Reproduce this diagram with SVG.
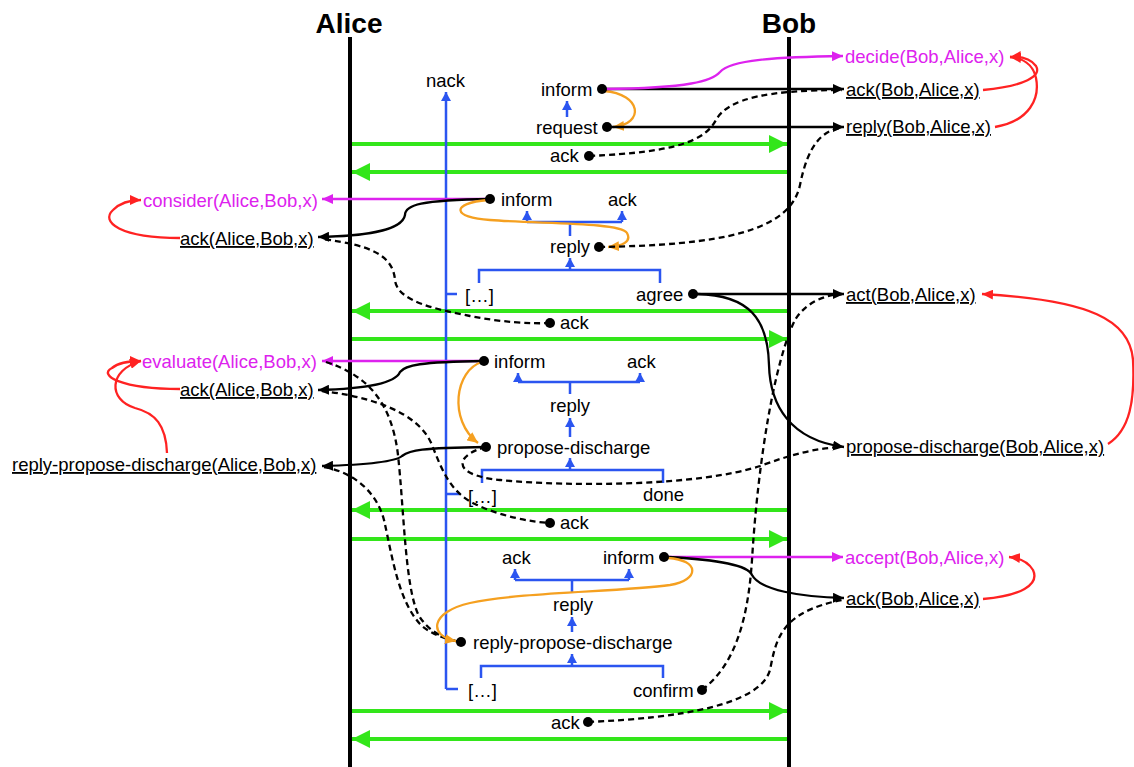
<svg xmlns="http://www.w3.org/2000/svg" width="1134" height="767" viewBox="0 0 1134 767">
<style>
.t{font-family:"Liberation Sans",Arial,sans-serif;font-size:18.5px;fill:#000}
.h{font-family:"Liberation Sans",Arial,sans-serif;font-size:28px;font-weight:bold;fill:#000}
.u{text-decoration:underline;text-decoration-skip-ink:none}
.m{fill:#dd22ee}
.life{stroke:#000;stroke-width:4}
.g{stroke:#33e61a;stroke-width:4;fill:none;marker-end:url(#ag)}
.b{stroke:#2b55f0;stroke-width:2.5;fill:none}
.ba{marker-end:url(#ab)}
.k{stroke:#000;stroke-width:2.3;fill:none;marker-end:url(#ak)}
.d{stroke:#000;stroke-width:2.3;fill:none;stroke-dasharray:6 4}
.mg{stroke:#dd22ee;stroke-width:2.3;fill:none;marker-end:url(#am)}
.r{stroke:#ff2222;stroke-width:2.3;fill:none;marker-end:url(#ar)}
.o{stroke:#f5a020;stroke-width:2.3;fill:none;marker-end:url(#ao)}
.dot{fill:#000}
</style>
<defs>
<marker id="ag" markerUnits="userSpaceOnUse" markerWidth="18" markerHeight="18" refX="18" refY="9" orient="auto"><path d="M0,0 L18,9 L0,18 z" fill="#33e61a"/></marker>
<marker id="ab" markerUnits="userSpaceOnUse" markerWidth="10" markerHeight="10" refX="9" refY="5" orient="auto"><path d="M0,0 L9,5 L0,10 z" fill="#2b55f0"/></marker>
<marker id="ak" markerUnits="userSpaceOnUse" markerWidth="11" markerHeight="10" refX="11" refY="5" orient="auto"><path d="M0,0 L11,5 L0,10 z" fill="#000"/></marker>
<marker id="am" markerUnits="userSpaceOnUse" markerWidth="11" markerHeight="10" refX="11" refY="5" orient="auto"><path d="M0,0 L11,5 L0,10 z" fill="#dd22ee"/></marker>
<marker id="ar" markerUnits="userSpaceOnUse" markerWidth="11" markerHeight="10" refX="11" refY="5" orient="auto"><path d="M0,0 L11,5 L0,10 z" fill="#ff2222"/></marker>
<marker id="ao" markerUnits="userSpaceOnUse" markerWidth="11" markerHeight="10" refX="11" refY="5" orient="auto"><path d="M0,0 L11,5 L0,10 z" fill="#f5a020"/></marker>
</defs>
<rect width="1134" height="767" fill="#fff"/>

<g id="lifelines">
<text class="h" x="349" y="33" text-anchor="middle">Alice</text>
<line class="life" x1="350" y1="37" x2="350" y2="767"/>
<text class="h" x="789" y="33" text-anchor="middle">Bob</text>
<line class="life" x1="789" y1="37" x2="789" y2="767"/>
</g>

<g id="transport">
<path class="g" d="M352 144 L787 144"/>
<path class="g" d="M787 172 L352 172"/>
<path class="g" d="M787 311 L352 311"/>
<path class="g" d="M352 339 L787 339"/>
<path class="g" d="M787 510 L352 510"/>
<path class="g" d="M352 539 L787 539"/>
<path class="g" d="M352 711 L787 711"/>
<path class="g" d="M787 739 L352 739"/>
</g>

<g id="protocol-tree">
<text class="t" x="426" y="87">nack</text>
<path class="b ba" d="M446 689 L446 92"/>
<path class="b" d="M446 689 L458 689 M446 294 L457 294 M446 494 L459 494"/>
<path class="b ba" d="M567 117 L567 101"/>
<path class="b" d="M527 222 L622 222 M570 222 L570 236"/>
<path class="b ba" d="M527 222 L527 211"/>
<path class="b ba" d="M622 222 L622 211"/>
<path class="b ba" d="M570 270 L570 258"/>
<path class="b" d="M479 283 L479 270 L660 270 L660 283"/>
<path class="b" d="M518 382 L640 382 M570 382 L570 394"/>
<path class="b ba" d="M518 382 L518 373"/>
<path class="b ba" d="M640 382 L640 373"/>
<path class="b ba" d="M570 437 L570 418"/>
<path class="b ba" d="M570 470 L570 458"/>
<path class="b" d="M482 483 L482 470 L663 470 L663 483"/>
<path class="b" d="M515 580 L629 580 M572 580 L572 593"/>
<path class="b ba" d="M515 580 L515 569"/>
<path class="b ba" d="M629 580 L629 569"/>
<path class="b ba" d="M572 632 L572 617"/>
<path class="b ba" d="M572 666 L572 654"/>
<path class="b" d="M481 678 L481 666 L663 666 L663 678"/>
</g>

<g id="connectors">
<path class="o" d="M604 91 C 642 94, 645 124, 613 127"/>
<path class="k" d="M602 89 L844 89"/>
<path class="k" d="M607 127 L844 127"/>
<path class="mg" d="M604 89 C 690 88, 712 81, 720 72 C 730 60, 775 57, 843 56"/>
<path class="d" d="M589 156 C 680 152, 705 140, 716 120 C 728 98, 770 90, 842 90"/>
<path class="r" d="M983 90 C 1025 86, 1042 76, 1036 66 C 1031 59, 1022 56, 1010 57"/>
<path class="r" d="M995 127 C 1030 121, 1040 98, 1036 78 C 1033 64, 1022 58, 1010 57"/>
<path class="mg" d="M488 199 L322 199"/>
<path class="k" d="M490 199 C 420 200, 405 205, 405 215 C 402 232, 360 236, 318 237"/>
<path class="r" d="M180 238 C 120 238, 100 222, 113 210 C 120 203, 130 200, 141 200"/>
<path class="o" d="M488 200 C 450 203, 452 218, 490 220 C 540 224, 620 222, 627 233 C 632 242, 622 246, 608 247"/>
<path class="d" d="M599 247 C 720 245, 790 232, 800 185 C 808 145, 822 130, 842 128"/>
<path class="d" d="M550 323 C 530 324, 500 322, 470 316 C 440 310, 397 302, 395 280 C 393 255, 370 245, 322 239"/>
<path class="k" d="M693 294 L844 294"/>
<path class="k" d="M697 294 C 750 295, 768 320, 769 365 C 770 405, 790 440, 844 447"/>
<path class="r" d="M1108 444 C 1130 430, 1135 400, 1133 360 C 1130 320, 1090 300, 982 294"/>
<path class="mg" d="M484 361 L322 361"/>
<path class="k" d="M484 361 C 420 362, 405 365, 400 372 C 395 384, 360 389, 318 390"/>
<path class="k" d="M486 447 C 420 448, 410 450, 402 456 C 395 462, 360 465, 322 466"/>
<path class="o" d="M482 362 C 455 370, 448 420, 478 443"/>
<path class="r" d="M180 389 C 120 389, 98 375, 112 368 C 118 363, 128 361, 141 361"/>
<path class="r" d="M167 453 C 166 425, 155 413, 135 408 C 108 400, 108 370, 141 361"/>
<path class="d" d="M486 447 C 455 455, 450 475, 500 480 C 570 487, 700 486, 760 466 C 790 455, 815 448, 842 447"/>
<path class="d" d="M326 362 C 370 376, 392 405, 398 455 C 404 510, 405 585, 418 614 C 428 632, 445 639, 460 642"/>
<path class="d" d="M324 467 C 352 472, 376 490, 384 520 C 392 555, 398 600, 420 624 C 430 634, 445 639, 460 642"/>
<path class="d" d="M322 391 C 365 396, 418 410, 432 445 C 442 470, 450 492, 475 504 C 500 516, 530 522, 550 523"/>
<path class="mg" d="M666 557 L843 557"/>
<path class="k" d="M668 557 C 720 560, 748 565, 752 575 C 760 590, 800 597, 844 598"/>
<path class="o" d="M668 558 C 700 560, 700 580, 670 585 C 620 592, 520 592, 470 603 C 430 612, 428 636, 456 641"/>
<path class="r" d="M983 599 C 1020 596, 1040 585, 1033 570 C 1028 562, 1020 558, 1009 557"/>
<path class="d" d="M588 722 C 680 718, 760 705, 770 670 C 776 640, 780 612, 842 600"/>
<path class="d" d="M702 690 C 735 665, 748 620, 752 560 C 758 460, 775 360, 795 320 C 806 302, 825 295, 842 294"/>
</g>

<g id="n-inform1"><circle class="dot" cx="602" cy="89" r="5"/><text class="t" x="541" y="96">inform</text></g>
<g id="n-request"><circle class="dot" cx="607" cy="127" r="5"/><text class="t" x="536" y="134">request</text></g>
<g id="n-ack1"><circle class="dot" cx="589" cy="156" r="5"/><text class="t" x="550" y="162">ack</text></g>
<g id="n-decide"><text class="t m" x="845" y="63">decide(Bob,Alice,x)</text></g>
<g id="n-ackBob1"><text class="t u" x="846" y="96">ack(Bob,Alice,x)</text></g>
<g id="n-replyBob"><text class="t u" x="846" y="133">reply(Bob,Alice,x)</text></g>

<g id="n-inform2"><circle class="dot" cx="490" cy="199" r="5"/><text class="t" x="501" y="206">inform</text></g>
<g id="n-ack2a"><text class="t" x="608" y="206">ack</text></g>
<g id="n-reply2"><circle class="dot" cx="599" cy="247" r="5"/><text class="t" x="550" y="253">reply</text></g>
<g id="n-etc2"><text class="t" x="465" y="302">[…]</text></g>
<g id="n-agree"><circle class="dot" cx="693" cy="294" r="5"/><text class="t" x="636" y="301">agree</text></g>
<g id="n-ack2"><circle class="dot" cx="550" cy="323" r="5"/><text class="t" x="560" y="329">ack</text></g>
<g id="n-consider"><text class="t m" x="143" y="207">consider(Alice,Bob,x)</text></g>
<g id="n-ackAlice1"><text class="t u" x="180" y="245">ack(Alice,Bob,x)</text></g>
<g id="n-act"><text class="t u" x="846" y="301">act(Bob,Alice,x)</text></g>
<g id="n-pdBob"><text class="t u" x="846" y="453">propose-discharge(Bob,Alice,x)</text></g>

<g id="n-inform3"><circle class="dot" cx="484" cy="361" r="5"/><text class="t" x="494" y="368">inform</text></g>
<g id="n-ack3a"><text class="t" x="627" y="368">ack</text></g>
<g id="n-reply3"><text class="t" x="550" y="412">reply</text></g>
<g id="n-pd"><circle class="dot" cx="486" cy="447" r="5"/><text class="t" x="497" y="454">propose-discharge</text></g>
<g id="n-etc3"><text class="t" x="468" y="503">[…]</text></g>
<g id="n-done"><text class="t" x="643" y="501">done</text></g>
<g id="n-ack3"><circle class="dot" cx="550" cy="523" r="5"/><text class="t" x="560" y="529">ack</text></g>
<g id="n-evaluate"><text class="t m" x="142" y="368">evaluate(Alice,Bob,x)</text></g>
<g id="n-ackAlice2"><text class="t u" x="180" y="396">ack(Alice,Bob,x)</text></g>
<g id="n-rpdAlice"><text class="t u" x="12" y="471">reply-propose-discharge(Alice,Bob,x)</text></g>

<g id="n-ack4a"><text class="t" x="502" y="564">ack</text></g>
<g id="n-inform4"><circle class="dot" cx="664" cy="557" r="5"/><text class="t" x="603" y="564">inform</text></g>
<g id="n-reply4"><text class="t" x="553" y="611">reply</text></g>
<g id="n-rpd"><circle class="dot" cx="461" cy="642" r="5"/><text class="t" x="473" y="649">reply-propose-discharge</text></g>
<g id="n-etc4"><text class="t" x="468" y="697">[…]</text></g>
<g id="n-confirm"><circle class="dot" cx="702" cy="690" r="5"/><text class="t" x="633" y="697">confirm</text></g>
<g id="n-ack4"><circle class="dot" cx="588" cy="722" r="5"/><text class="t" x="551" y="729">ack</text></g>
<g id="n-accept"><text class="t m" x="845" y="564">accept(Bob,Alice,x)</text></g>
<g id="n-ackBob2"><text class="t u" x="846" y="605">ack(Bob,Alice,x)</text></g>
</svg>
